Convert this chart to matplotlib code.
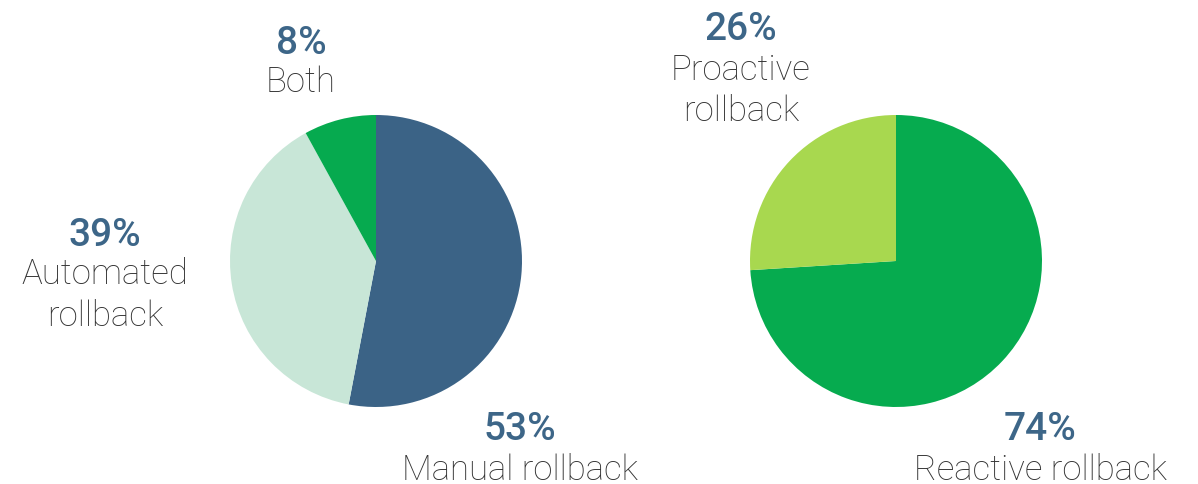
import matplotlib.pyplot as plt

W, H = 1198, 484

left_labels = ["Manual rollback", "Automated\nrollback", "Both"]
left_values = [53, 39, 8]
left_colors = ["#3b6386", "#c8e6d7", "#06aa4f"]

right_labels = ["Reactive rollback", "Proactive\nrollback"]
right_values = [74, 26]
right_colors = ["#06ab4f", "#a8d84f"]

# label anchor (pixel x, pixel y of percent line) for each slice
left_pos = [(520, 430), (105, 235), (301, 43)]
right_pos = [(1040, 430), (741, 30)]

pct_color = "#3d6688"
txt_color = "#333333"

fig = plt.figure(figsize=(W / 100, H / 100), dpi=100)


def draw_pie(cx, cy, r, values, colors, labels, positions):
    ax = fig.add_axes([(cx - r) / W, 1 - (cy + r) / H, 2 * r / W, 2 * r / H])
    ax.pie(values, colors=colors, startangle=90, counterclock=False,
           wedgeprops=dict(linewidth=0))
    ax.set_xlim(-1, 1)
    ax.set_ylim(-1, 1)
    ax.set_aspect("equal")
    for v, lab, (px, py) in zip(values, labels, positions):
        fig.text(px / W, 1 - py / H, f"{v}%", ha="center", va="center",
                 fontsize=28, fontweight="medium", color=pct_color,
                 family="Roboto")
        fig.text(px / W, 1 - (py + 23) / H, lab, ha="center", va="top",
                 fontsize=25, fontweight="light", color=txt_color,
                 family="Roboto", linespacing=1.32)


draw_pie(376, 261, 146, left_values, left_colors, left_labels, left_pos)
draw_pie(896, 261, 146, right_values, right_colors, right_labels, right_pos)

fig.savefig("out.png", dpi=100)
